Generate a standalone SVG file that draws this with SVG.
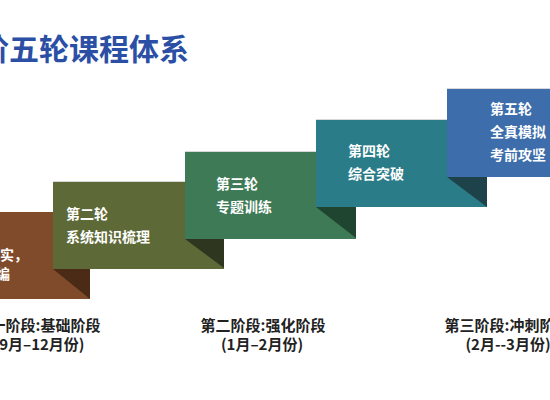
<svg xmlns="http://www.w3.org/2000/svg" width="550" height="400" viewBox="0 0 550 400">
<style>
.title{font-family:"Noto Sans CJK SC","Noto Sans",sans-serif;font-weight:bold;font-size:30px;fill:#2b4fa5}
.bt{font-family:"Noto Sans CJK SC","Noto Sans",sans-serif;font-weight:bold;font-size:14px;fill:#ffffff}
.lbl{font-family:"Noto Sans CJK SC","Noto Sans",sans-serif;font-weight:bold;font-size:15px;fill:#222222;text-anchor:middle}
.edge{stroke:#d8d8d8;stroke-width:1;fill:none}
</style>
<rect width="550" height="400" fill="#ffffff"/>
<text class="title" x="-21" y="60">阶五轮课程体系</text>

<g id="round1">
<rect x="-81" y="212" width="171" height="87" fill="#7f4b2b"/>
<text class="bt" x="28" y="260" text-anchor="end">实，</text>
<text class="bt" x="10" y="279" text-anchor="end">编</text>
</g>

<g id="round2">
<polygon points="53,269 90,269 90,299" fill="#4b2a16"/>
<rect x="53" y="181" width="171" height="88" fill="#5d6936"/>
<line class="edge" x1="53" y1="181.5" x2="185" y2="181.5"/>
<text class="bt" x="66" y="219">第二轮</text>
<text class="bt" x="66" y="242">系统知识梳理</text>
</g>

<g id="round3">
<polygon points="185,239 224,239 224,268" fill="#2f3620"/>
<rect x="185" y="151" width="171" height="88" fill="#3e7a55"/>
<line class="edge" x1="185" y1="151.5" x2="316" y2="151.5"/>
<text class="bt" x="216" y="189">第三轮</text>
<text class="bt" x="216" y="212">专题训练</text>
</g>

<g id="round4">
<polygon points="316,207 356,207 356,238" fill="#1f4430"/>
<rect x="316" y="119" width="171" height="88" fill="#2a7c89"/>
<line class="edge" x1="316" y1="119.5" x2="447" y2="119.5"/>
<text class="bt" x="348" y="156">第四轮</text>
<text class="bt" x="348" y="179">综合突破</text>
</g>

<g id="round5">
<polygon points="447,177 487,177 487,207" fill="#1d4249"/>
<rect x="447" y="88" width="171" height="89" fill="#3d6eab"/>
<line class="edge" x1="447" y1="88.5" x2="550" y2="88.5"/>
<text class="bt" x="490" y="114">第五轮</text>
<text class="bt" x="490" y="137">全真模拟</text>
<text class="bt" x="490" y="160">考前攻坚</text>
</g>

<g id="stage1">
<text class="lbl" x="38" y="331">第一阶段:基础阶段</text>
<text class="lbl" x="39" y="350">(9月–12月份)</text>
</g>
<g id="stage2">
<text class="lbl" x="263" y="331">第二阶段:强化阶段</text>
<text class="lbl" x="262" y="350">(1月–2月份)</text>
</g>
<g id="stage3">
<text class="lbl" x="507" y="331">第三阶段:冲刺阶段</text>
<text class="lbl" x="508" y="350">(2月--3月份)</text>
</g>
<g id="connectors"/>
</svg>
